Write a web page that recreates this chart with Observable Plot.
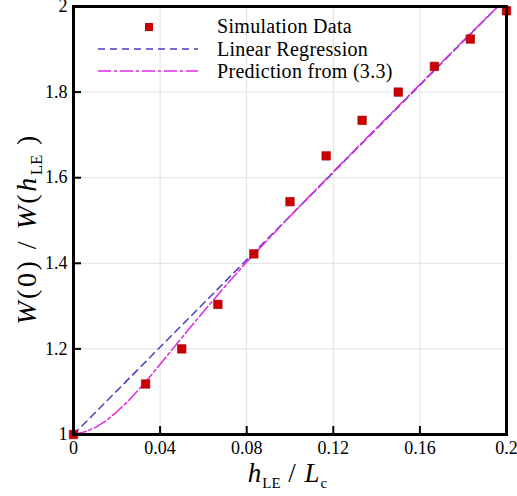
<!DOCTYPE html>
<html>
<head>
<meta charset="utf-8">
<script src="https://cdn.jsdelivr.net/npm/d3@7"></script>
<script src="https://cdn.jsdelivr.net/npm/@observablehq/plot@0.6"></script>
<style>
  html, body { margin: 0; padding: 0; background: white; }
  #chart { position: relative; width: 517px; height: 496px; }
  #chart svg, #chart svg text, #chart svg tspan { font-family: "Liberation Serif", "Times New Roman", serif !important; }
  #chart svg g[aria-label="x-axis tick label"] text,
  #chart svg g[aria-label="y-axis tick label"] text { font-size: 18px !important; }
</style>
</head>
<body>
<div id="chart"></div>
<script>
// ---- data ----
const xTicks = [0, 0.04, 0.08, 0.12, 0.16, 0.2];
const xTickLabels = ["0", "0.04", "0.08", "0.12", "0.16", "0.2"];
const yTicks = [1, 1.2, 1.4, 1.6, 1.8, 2];
const yTickLabels = ["1", "1.2", "1.4", "1.6", "1.8", "2"];

// Simulation Data (red squares)
const simX = [0, 0.0333, 0.05, 0.0667, 0.0833, 0.1, 0.1167, 0.1333, 0.15, 0.1667, 0.1833, 0.2];
const simY = [1.0, 1.118, 1.2, 1.304, 1.422, 1.544, 1.651, 1.734, 1.80, 1.86, 1.924, 1.99];

// Linear Regression (blue dashed)
const regX = [0, 0.196];
const regY = [1.0, 2.0];

// Prediction from (3.3) (magenta dash-dot)
const predX = [0, 0.005, 0.01, 0.015, 0.02, 0.025, 0.03, 0.035, 0.04, 0.045, 0.05, 0.06, 0.07, 0.08, 0.1, 0.12, 0.14, 0.16, 0.18, 0.196];
const predY = [1.0, 1.006, 1.016, 1.032, 1.053, 1.077, 1.104, 1.133, 1.164, 1.195, 1.226, 1.287, 1.346, 1.403, 1.51, 1.614, 1.716, 1.818, 1.92, 2.0];

const legendLabels = ["Simulation Data", "Linear Regression", "Prediction from (3.3)"];

const sim = simX.map((x, i) => ({x, y: simY[i]}));
const reg = regX.map((x, i) => ({x, y: regY[i]}));
const pred = predX.map((x, i) => ({x, y: predY[i]}));

const BLUE = "#4a3fc0";
const PINK = "#e028e0";
const RED = "#cc0000";
const FAM = "Liberation Serif, Times New Roman, serif";

const svg = Plot.plot({
  width: 517,
  height: 496,
  marginLeft: 73,
  marginRight: 11,
  marginTop: 6,
  marginBottom: 62,
  style: {fontFamily: FAM, fontSize: "18px", background: "white", color: "black", overflow: "visible"},
  x: {domain: [0, 0.2], label: null},
  y: {domain: [1, 2], label: null},
  marks: [
    Plot.gridX(xTicks, {stroke: "#e2e2e2", strokeOpacity: 1, strokeWidth: 1}),
    Plot.gridY(yTicks, {stroke: "#e2e2e2", strokeOpacity: 1, strokeWidth: 1}),
    Plot.line(reg, {x: "x", y: "y", stroke: BLUE, strokeWidth: 1.5, strokeDasharray: "7,5", clip: true}),
    Plot.line(pred, {x: "x", y: "y", stroke: PINK, strokeWidth: 1.5, strokeDasharray: "13,3,3,3", clip: true}),
    Plot.dot(sim, {x: "x", y: "y", symbol: "square", r: 4.8, fill: RED, stroke: "#a00000", strokeWidth: 0.6}),
    // inward ticks
    Plot.axisX(xTicks, {tickSize: 8, dy: -8, fill: "none", stroke: "black", strokeWidth: 2, label: null}),
    Plot.axisY(yTicks, {tickSize: 8, dx: 8, fill: "none", stroke: "black", strokeWidth: 2, label: null}),
    // tick labels
    Plot.axisX(xTicks, {tickSize: 0, tickPadding: 7, fontSize: 18, fontFamily: FAM, tickFormat: d => xTickLabels[xTicks.indexOf(d)], label: null}),
    Plot.axisY(yTicks, {tickSize: 0, tickPadding: 6, fontSize: 18, fontFamily: FAM, tickFormat: d => yTickLabels[yTicks.indexOf(d)], label: null}),
    Plot.frame({stroke: "black", strokeWidth: 3})
  ]
});

document.getElementById("chart").appendChild(svg);

// ---- axis titles (rich text) ----
const s = d3.select(svg);

const yl = s.append("text")
  .attr("transform", "translate(36,229) rotate(-90)")
  .attr("text-anchor", "middle")
  .style("font-size", "28px")
  .style("letter-spacing", "2.5px")
  .attr("fill", "black");
yl.append("tspan").style("font-style", "italic").text("W");
yl.append("tspan").text("(0) / ");
yl.append("tspan").style("font-style", "italic").text("W");
yl.append("tspan").text("(");
yl.append("tspan").style("font-style", "italic").text("h");
yl.append("tspan").style("font-size", "17px").attr("dy", 6).style("letter-spacing", "0px").text("LE");
yl.append("tspan").attr("dy", -6).text(" )");

const xl = s.append("text")
  .attr("transform", "translate(288,482)")
  .attr("text-anchor", "middle")
  .style("font-size", "27px")
  .style("letter-spacing", "1px")
  .attr("fill", "black");
xl.append("tspan").style("font-style", "italic").text("h");
xl.append("tspan").style("font-size", "15px").attr("dy", 6).style("letter-spacing", "0px").text("LE");
xl.append("tspan").attr("dy", -6).text(" / ");
xl.append("tspan").style("font-style", "italic").text("L");
xl.append("tspan").style("font-size", "15px").attr("dy", 6).text("c");

// ---- legend ----
const lg = s.append("g").attr("text-anchor", "start").style("font-size", "20px").attr("fill", "black");
lg.append("rect").attr("x", 145).attr("y", 23).attr("width", 8).attr("height", 8).attr("fill", RED);
lg.append("line").attr("x1", 98).attr("x2", 198).attr("y1", 49).attr("y2", 49)
  .attr("stroke", BLUE).attr("stroke-width", 1.5).attr("stroke-dasharray", "7,5");
lg.append("line").attr("x1", 98).attr("x2", 198).attr("y1", 71).attr("y2", 71)
  .attr("stroke", PINK).attr("stroke-width", 1.5).attr("stroke-dasharray", "13,3,3,3");
const baselines = [33, 55.5, 78];
legendLabels.forEach((t, i) => {
  lg.append("text").attr("x", 217).attr("y", baselines[i]).attr("text-anchor", "start")
    .style("letter-spacing", "0.3px").text(t);
});
</script>
</body>
</html>
